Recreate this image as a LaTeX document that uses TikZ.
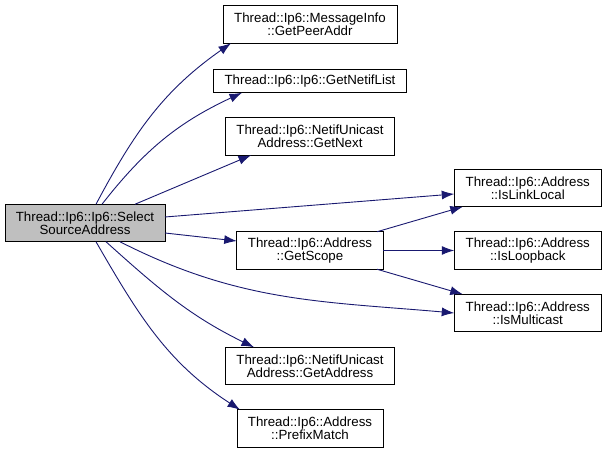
\documentclass[tikz,border=0pt]{standalone}
\usepackage{fontspec}
\setmainfont{Liberation Sans}
\usetikzlibrary{arrows.meta,positioning}
\definecolor{edgeblue}{HTML}{191970}
\definecolor{rootgray}{HTML}{BFBFBF}
\begin{document}
\begin{tikzpicture}[x=1bp, y=1bp, >={Latex[length=12.5bp,width=9bp]}, node distance=25bp,
  every node/.style={font=\fontsize{13.3bp}{12bp}\selectfont},
  fn/.style={draw, line width=0.9bp, rectangle, align=center, inner sep=0pt, outer sep=0pt, minimum height=37.5bp},
  call/.style={->, draw=edgeblue, line width=0.9bp}]
\useasboundingbox (0,0) rectangle (605,453);
\node[fn, fill=rootgray, minimum width=160bp] (root) at (85,230) {Thread::Ip6::Ip6::Select\\SourceAddress};
\node[fn, minimum width=146.5bp] (getscope) at (310,202.5) {Thread::Ip6::Address\\::GetScope};
\node[fn, minimum width=169bp, above=76.5bp of getscope] (getnext) {Thread::Ip6::NetifUnicast\\Address::GetNext};
\node[fn, minimum width=193bp, minimum height=23.5bp, above=of getnext] (netiflist) {Thread::Ip6::Ip6::GetNetifList};
\node[fn, minimum width=174bp, above=26bp of netiflist] (peeraddr) {Thread::Ip6::MessageInfo\\::GetPeerAddr};
\node[fn, minimum width=169bp, below=78bp of getscope] (getaddress) {Thread::Ip6::NetifUnicast\\Address::GetAddress};
\node[fn, minimum width=146bp, below=of getaddress] (prefixmatch) {Thread::Ip6::Address\\::PrefixMatch};
\node[fn, minimum width=147bp, right=71bp of getscope] (isloopback) {Thread::Ip6::Address\\::IsLoopback};
\node[fn, minimum width=147bp, above=of isloopback] (islinklocal) {Thread::Ip6::Address\\::IsLinkLocal};
\node[fn, minimum width=147bp, below=of isloopback] (ismulticast) {Thread::Ip6::Address\\::IsMulticast};
% calls from the root
\draw[call] ([xshift=11bp]root.north) to[out=62,in=-145] ([xshift=-79bp]peeraddr.south);
\draw[call] ([xshift=17bp]root.north) to[out=52,in=-155] ([xshift=-68bp]netiflist.south);
\draw[call] ([xshift=50bp]root.north) -- ([xshift=-59bp]getnext.south);
\draw[call] ([yshift=6bp]root.east) -- ([yshift=-6bp]islinklocal.west);
\draw[call] ([yshift=-10bp]root.east) -- ([yshift=9.5bp]getscope.west);
\draw[call] ([xshift=35bp]root.south) to[out=-27,in=175] (ismulticast.west);
\draw[call] ([xshift=21bp]root.south) to[out=-42,in=154] ([xshift=-56bp]getaddress.north);
\draw[call] ([xshift=11bp]root.south) to[out=-60,in=147] ([xshift=3bp]prefixmatch.north west);
% calls from GetScope
\draw[call] ([xshift=67bp]getscope.north) -- ([xshift=-65bp]islinklocal.south);
\draw[call] (getscope.east) -- (isloopback.west);
\draw[call] ([xshift=67bp]getscope.south) -- ([xshift=-65bp]ismulticast.north);
\end{tikzpicture}
\end{document}
